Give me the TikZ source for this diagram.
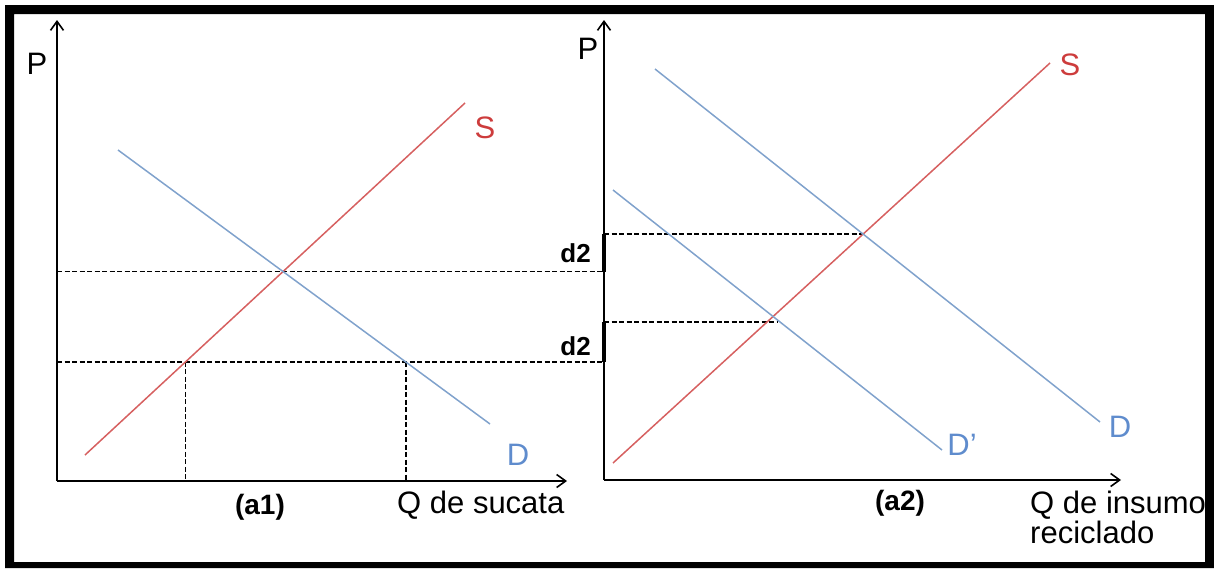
\documentclass[tikz,border=0pt]{standalone}
\usepackage{fontspec}
\setmainfont{Liberation Sans}
\usepackage{xcolor}
\definecolor{curvaS}{RGB}{214,96,96}
\definecolor{curvaD}{RGB}{128,162,204}
\definecolor{rotuloS}{RGB}{205,60,60}
\definecolor{rotuloD}{RGB}{95,140,205}
\usetikzlibrary{arrows.meta}

\begin{document}
\begin{tikzpicture}[x=1pt, y=-1pt,
    eixo/.style={line width=1.6pt, -{Straight Barb[length=9pt,width=13pt]}},
    oferta/.style={curvaS, line width=1.5pt},
    demanda/.style={curvaD, line width=1.5pt},
    tracejado/.style={line width=1.4pt, dash pattern=on 5pt off 2.5pt},
    barra/.style={line width=4.5pt},
    texto/.style={font=\fontsize{31}{36}\selectfont, inner sep=0pt},
    negrito/.style={font=\fontsize{26}{30}\selectfont\bfseries, inner sep=0pt}]
  \useasboundingbox (0,0) rectangle (1214,568);
  \fill[even odd rule] (5,5) rectangle (1214,568) (14,14) rectangle (1205,562);

  % (a1)
  \coordinate (O1) at (57,481);
  \coordinate (P1) at (57,20);
  \coordinate (Q1) at (567,481);
  \coordinate (S1a) at (85,455);
  \coordinate (S1b) at (465,103);
  \coordinate (D1a) at (118,150);
  \coordinate (D1b) at (490,424);
  \coordinate (L1) at (57,362);
  \coordinate (L2) at (604,362);
  \coordinate (E1) at (intersection of S1a--S1b and D1a--D1b);
  \coordinate (A1) at (intersection of S1a--S1b and L1--L2);
  \coordinate (B1) at (intersection of D1a--D1b and L1--L2);

  % (a2)
  \coordinate (O2) at (604,480);
  \coordinate (P2) at (604,20);
  \coordinate (Q2) at (1121,480);
  \coordinate (S2a) at (613,463);
  \coordinate (S2b) at (1050,63);
  \coordinate (D2a) at (655,69);
  \coordinate (D2b) at (1100,422);
  \coordinate (F2a) at (613,190);
  \coordinate (F2b) at (942,450);
  \coordinate (E2) at (intersection of S2a--S2b and D2a--D2b);
  \coordinate (E3) at (777,322);

  \draw[tracejado] (O1 |- E1) -- (O2 |- E1);
  \draw[tracejado] (L1) -- (L2);
  \draw[tracejado] (A1) -- (A1 |- O1);
  \draw[tracejado] (B1) -- (B1 |- O1);
  \draw[tracejado] (O2 |- E2) -- (E2);
  \draw[tracejado] (O2 |- E3) -- (E3);

  \draw[oferta] (S1a) -- (S1b);
  \draw[demanda] (D1a) -- (D1b);
  \draw[oferta] (S2a) -- (S2b);
  \draw[demanda] (D2a) -- (D2b);
  \draw[demanda] (F2a) -- (F2b);

  \draw[eixo] (O1) -- (P1);
  \draw[eixo] (O1) -- (Q1);
  \draw[eixo] (O2) -- (P2);
  \draw[eixo] (O2) -- (Q2);

  \draw[barra, xshift=2.5pt] (O2 |- E2) -- (O2 |- E1)
    node[negrito, midway, left=11pt] (g1) {d2};
  \draw[barra, xshift=2.5pt] (O2 |- E3) -- (L2)
    node[negrito, midway, left=11pt, yshift=-4pt] (g2) {d2};

  \node[texto] (p1) at (37,64) {P};
  \node[texto] (p2) at (588,49) {P};
  \node[texto, text=rotuloS] (s1) at (485,128) {S};
  \node[texto, text=rotuloD] (d1) at (518,455) {D};
  \node[texto, text=rotuloS] (s2) at (1070,65) {S};
  \node[texto, text=rotuloD] (d2) at (1120,427) {D};
  \node[texto, text=rotuloD] (d2l) at (962,445) {D’};
  \node[negrito, font=\fontsize{28}{32}\selectfont\bfseries] (a1) at (260,507) {(a1)};
  \node[negrito, font=\fontsize{28}{32}\selectfont\bfseries] (a2) at (900,503) {(a2)};
  \node[texto, anchor=base west] (q1) at (397,513) {Q de sucata};
  \node[texto, anchor=base west] (q2) at (1030,513) {Q de insumo};
  \node[texto, anchor=base west] (q3) at (1030,543) {reciclado};
\end{tikzpicture}
\end{document}
